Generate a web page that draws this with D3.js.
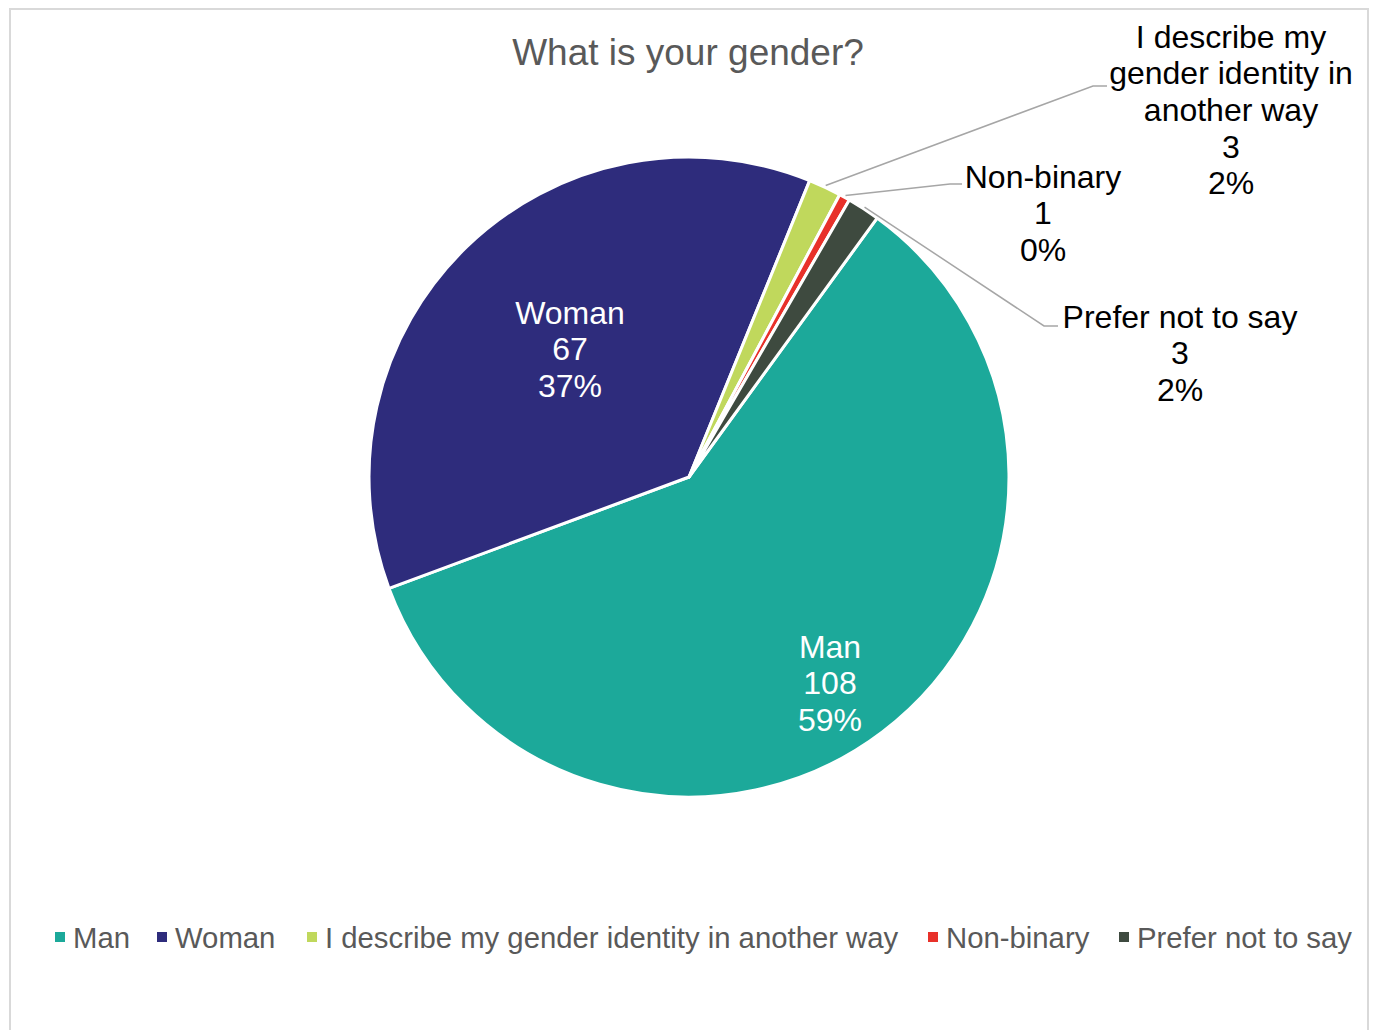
<!DOCTYPE html>
<html lang="en">
<head>
<meta charset="utf-8">
<title>What is your gender?</title>
<script src="https://d3js.org/d3.v7.min.js"></script>
<style>
  html, body { margin: 0; background: white; }
  svg { font-family: 'Liberation Sans', Arial, sans-serif; }
</style>
</head>
<body>
<div id="vis"></div>
<script>
// data
var categories = ['Man', 'Woman', 'I describe my gender identity in another way', 'Non-binary', 'Prefer not to say'];
var counts = [108, 67, 3, 1, 3];
var percents = ['59%', '37%', '2%', '0%', '2%'];
var colors = ['#1ca99a', '#2e2c7c', '#c0d85c', '#e8312a', '#3e4a3f'];

var width = 1373, height = 1030;
var cx = 689, cy = 477, radius = 320;

var svg = d3.select('#vis').append('svg')
    .attr('width', width)
    .attr('height', height);

// chart frame
svg.append('rect')
    .attr('x', 10).attr('y', 9)
    .attr('width', 1358).attr('height', 1040)
    .attr('fill', 'white')
    .attr('stroke', '#d9d9d9')
    .attr('stroke-width', 2);

svg.append('text')
    .attr('x', 688).attr('y', 65)
    .attr('text-anchor', 'middle')
    .attr('font-size', 37)
    .attr('fill', '#595959')
    .text('What is your gender?');

var rows = categories.map(function(c, i) {
    return { name: c, value: counts[i], pct: percents[i], color: colors[i] };
});

var start = 36 * Math.PI / 180;
var pie = d3.pie()
    .sort(null)
    .value(function(d) { return d.value; })
    .startAngle(start)
    .endAngle(start + 2 * Math.PI);

var arc = d3.arc().innerRadius(0).outerRadius(radius);

var g = svg.append('g')
    .attr('transform', 'translate(' + cx + ',' + cy + ')');

var arcs = pie(rows);

g.selectAll('path.slice')
    .data(arcs)
    .enter().append('path')
    .attr('class', 'slice')
    .attr('d', arc)
    .attr('fill', function(d) { return d.data.color; })
    .attr('stroke', 'white')
    .attr('stroke-width', 3)
    .attr('stroke-linejoin', 'round');

// label layout (inside labels for big slices, callouts for small ones)
var labelPos = [
    { x: 830, y: 646, inside: true, lines: ['Man'] },
    { x: 570, y: 312, inside: true, lines: ['Woman'] },
    { x: 1231, y: 36, lines: ['I describe my', 'gender identity in', 'another way'], elbow: [1093, 86], end: 1107 },
    { x: 1043, y: 176, lines: ['Non-binary'], elbow: [950, 184], end: 962 },
    { x: 1180, y: 316, lines: ['Prefer not to say'], elbow: [1044, 326], end: 1058 }
];

var lineH = 36.7, fs = 32;

arcs.forEach(function(a, i) {
    var p = labelPos[i];
    if (!p.inside) {
        var mid = (a.startAngle + a.endAngle) / 2;
        var r0 = radius + 2;
        var sx = cx + r0 * Math.sin(mid), sy = cy - r0 * Math.cos(mid);
        svg.append('polyline')
            .attr('points', [[sx, sy], p.elbow, [p.end, p.elbow[1]]].map(function(q) { return q.join(','); }).join(' '))
            .attr('fill', 'none')
            .attr('stroke', '#a6a6a6')
            .attr('stroke-width', 1.5);
    }
    var lines = p.lines.concat([String(a.data.value), a.data.pct]);
    var t = svg.append('text')
        .attr('text-anchor', 'middle')
        .attr('font-size', fs)
        .attr('fill', p.inside ? 'white' : 'black');
    lines.forEach(function(s, k) {
        t.append('tspan')
            .attr('x', p.x)
            .attr('y', p.y + 11.5 + k * lineH)
            .text(s);
    });
});

// legend
var legendX = [55, 157, 307, 928, 1119];
var legend = svg.append('g');
rows.forEach(function(d, i) {
    legend.append('rect')
        .attr('x', legendX[i]).attr('y', 932)
        .attr('width', 10).attr('height', 10)
        .attr('fill', d.color);
    legend.append('text')
        .attr('x', legendX[i] + 18).attr('y', 947.5)
        .attr('font-size', 29.3)
        .attr('fill', '#595959')
        .text(d.name);
});
</script>
</body>
</html>
